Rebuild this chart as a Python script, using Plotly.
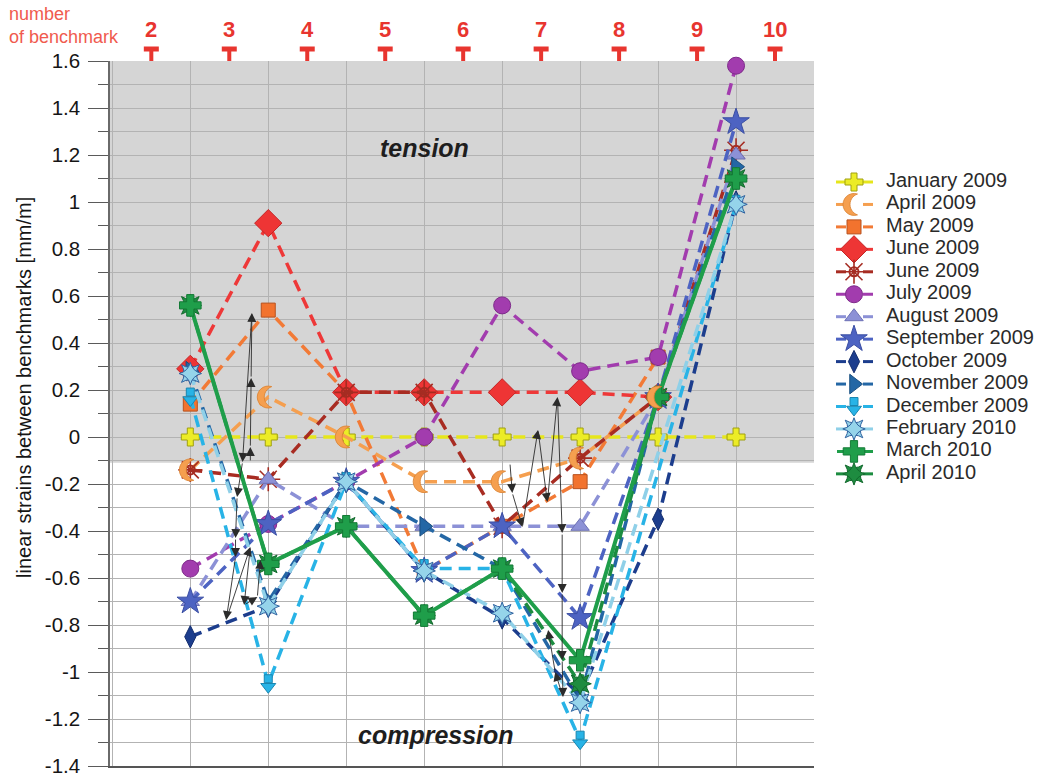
import math
import plotly.graph_objects as go

# ---------------------------------------------------------------- data ----
# x = index of the measured interval (0 -> benchmarks 2-3, ..., 7 -> benchmarks 9-10)
interval_idx = [0, 1, 2, 3, 4, 5, 6, 7]
benchmark_labels = ["2", "3", "4", "5", "6", "7", "8", "9", "10"]
benchmark_pos = [-0.5, 0.5, 1.5, 2.5, 3.5, 4.5, 5.5, 6.5, 7.5]

y_tickvals = [-1.4, -1.2, -1.0, -0.8, -0.6, -0.4, -0.2, 0.0,
              0.2, 0.4, 0.6, 0.8, 1.0, 1.2, 1.4, 1.6]
y_ticktext = ["-1.4", "-1.2", "-1", "-0.8", "-0.6", "-0.4", "-0.2", "0",
              "0.2", "0.4", "0.6", "0.8", "1", "1.2", "1.4", "1.6"]
tension_floor = -0.11   # lower edge of the shaded "tension" band

# linear strain [mm/m] per interval
january_2009   = [0.00, 0.00, 0.00, 0.00, 0.00, 0.00, 0.00, 0.00]
april_2009     = [-0.14, 0.17, 0.00, -0.19, -0.19, -0.09, 0.17, None]
may_2009       = [0.14, 0.54, 0.19, -0.57, -0.38, -0.19, 0.34, None]
june_2009      = [0.29, 0.91, 0.19, 0.19, 0.19, 0.19, 0.17, None]
june_2009_b    = [-0.14, -0.18, 0.19, 0.19, -0.38, -0.09, 0.17, 1.22]
july_2009      = [-0.56, -0.37, -0.19, 0.00, 0.56, 0.28, 0.34, 1.58]
august_2009    = [-0.70, -0.18, -0.38, -0.38, -0.38, -0.38, 0.17, 1.20]
september_2009 = [-0.70, -0.37, -0.19, -0.57, -0.38, -0.77, 0.17, 1.34]
october_2009   = [-0.85, -0.72, -0.19, -0.57, -0.77, -1.10, -0.35, 1.00]
november_2009  = [0.28, -0.70, -0.19, -0.38, -0.56, -1.12, 0.17, 1.15]
december_2009  = [0.17, -1.05, -0.19, -0.56, -0.56, -1.29, None, 0.99]
february_2010  = [0.27, -0.72, -0.19, -0.57, -0.75, -1.13, None, 0.99]
march_2010     = [0.56, -0.54, -0.38, -0.76, -0.56, -0.95, 0.17, 1.10]
april_2010     = [0.56, -0.54, -0.38, -0.76, -0.56, -1.05, 0.17, 1.10]

# movement paths (interval index, strain) drawn as thin arrows
path_up_34 = [(0.77, -0.106), (0.77, -0.043), (0.78, 0.251), (0.79, 0.528)]
path_down_34 = [(0.79, 0.528), (0.67, -0.106), (0.60, -0.255), (0.58, -0.430),
                (0.58, -0.511), (0.46, -0.779), (0.77, -0.468), (0.69, -0.715),
                (0.86, -0.681), (0.90, -0.523)]
path_78 = [(4.10, -0.111), (4.13, -0.238), (4.26, -0.383), (4.46, 0.030),
           (4.58, -0.277), (4.71, 0.170), (4.77, -0.409), (4.77, -0.664),
           (4.77, -0.949), (4.78, -1.106), (4.68, -1.000), (4.59, -0.821)]

# ------------------------------------------------------------- layout ----
W, H = 1043, 776
PL, PR, PT, PB = 110, 814, 61, 766          # plot box in pixels
X_RANGE = [-1.03, 8.0]
Y_RANGE = [-1.4, 1.6]
PX_PER_Y = (PB - PT) / (Y_RANGE[1] - Y_RANGE[0])

FONT = "Liberation Sans, Arial, sans-serif"
RED = "#e8352f"
DASH = "12px,7px"


def crescent_path(r_out=11.0, offset=7.0, n=14):
    """Closed SVG path (pixels, centred on 0,0) of a crescent opening to the right."""
    r_in = r_out
    hx = offset / 2.0
    hy = math.sqrt(r_out ** 2 - hx ** 2)
    a0 = math.atan2(hy, hx)
    pts = []
    for k in range(n + 1):                      # outer arc, through the left side
        a = a0 + (2 * math.pi - 2 * a0) * k / n
        pts.append((r_out * math.cos(a), r_out * math.sin(a)))
    b0 = math.atan2(-hy, hx - offset)
    b1 = math.atan2(hy, hx - offset)
    for k in range(1, n):                       # inner arc back to the top horn
        a = b0 - ((b0 - b1) % (2 * math.pi)) * k / n
        pts.append((offset + r_in * math.cos(a), r_in * math.sin(a)))
    return "M " + " L ".join(f"{x:.2f},{y:.2f}" for x, y in pts) + " Z"


CRESCENT = crescent_path()

# marker layers: (symbol, size, fill, outline, outline width, vertical shift px)
series = [
    dict(name="January 2009", y=january_2009, color="#e6e61c", dash=DASH,
         marks=[("cross", 15, "#ecec26", "#a0a010", 1, 0)]),
    dict(name="April 2009", y=april_2009, color="#f59f4f", dash=DASH,
         marks=[("crescent", 0, "#f59f4f", "#d9802f", 0.8, 0)]),
    dict(name="May 2009", y=may_2009, color="#f27a36", dash=DASH,
         marks=[("square", 14, "#f2732e", "#b8521e", 1, 0)]),
    dict(name="June 2009", y=june_2009, color="#ee3838", dash=DASH,
         marks=[("diamond", 21, "#ee3535", "#c42525", 1, 0)]),
    dict(name="June 2009", y=june_2009_b, color="#a82c22", dash=DASH,
         marks=[("circle-open", 9, "#a52c22", "#a52c22", 2, 0),
                ("asterisk-open", 20, "#a52c22", "#a52c22", 1.6, 0)]),
    dict(name="July 2009", y=july_2009, color="#a23cae", dash=DASH,
         marks=[("circle", 17, "#a23cae", "#7e2a8a", 1, 0)]),
    dict(name="August 2009", y=august_2009, color="#8c91d6", dash=DASH,
         marks=[("triangle-up", 16, "#8c91d6", "#6d71b5", 1, 0)]),
    dict(name="September 2009", y=september_2009, color="#4d63c2", dash=DASH,
         marks=[("star", 20, "#4d63c2", "#3a4ea3", 1, 0)]),
    dict(name="October 2009", y=october_2009, color="#1c3d8d", dash=DASH,
         marks=[("diamond-tall", 16, "#1c3d8d", "#142e6e", 1, 0)]),
    dict(name="November 2009", y=november_2009, color="#2467a5", dash=DASH,
         marks=[("triangle-right", 17, "#2467a5", "#1a4f80", 1, 0)]),
    dict(name="December 2009", y=december_2009, color="#28b3e6", dash=DASH,
         marks=[("triangle-down", 13, "#28b3e6", "#1a86b0", 1, -3),
                ("square", 8, "#28b3e6", "#1a86b0", 1, 5)]),
    dict(name="February 2010", y=february_2010, color="#8fd0e8", dash=DASH,
         marks=[("star-square", 16, "#95d4ea", "#2f62a0", 1, 0),
                ("star-diamond", 16, "#95d4ea", "#2f62a0", 1, 0)]),
    dict(name="March 2010", y=march_2010, color="#1f9e4a", dash="solid",
         marks=[("cross", 18, "#1f9e4a", "#147a36", 1, 0)]),
    dict(name="April 2010", y=april_2010, color="#1c8c40", dash=DASH,
         marks=[("star-square", 16, "#1e8c40", "#136a2e", 1, 0),
                ("star-diamond", 16, "#1e8c40", "#136a2e", 1, 0)]),
]
draw_order = list(range(12)) + [13, 12]

fig = go.Figure()
shapes = []


def add_marks(xs, ys, marks, xref, yref, shift_scale):
    for sym, size, fill, outline, lw, dy in marks:
        yy = [None if v is None else v + dy * shift_scale for v in ys]
        if sym == "crescent":
            for xv, yv in zip(xs, yy):
                if yv is None:
                    continue
                shapes.append(dict(type="path", path=CRESCENT, xref=xref, yref=yref,
                                   xsizemode="pixel", ysizemode="pixel",
                                   xanchor=xv, yanchor=yv, fillcolor=fill,
                                   line=dict(color=outline, width=lw), layer="above"))
        else:
            fig.add_trace(go.Scatter(
                x=xs, y=yy, mode="markers", xaxis=xref, yaxis=yref,
                marker=dict(symbol=sym, size=size, color=fill,
                            line=dict(color=outline, width=lw)),
                cliponaxis=False, showlegend=False, hoverinfo="skip"))


# series lines and markers
for i in draw_order:
    s = series[i]
    fig.add_trace(go.Scatter(
        x=interval_idx, y=s["y"], mode="lines", connectgaps=True,
        line=dict(color=s["color"], width=4 if s["dash"] == "solid" else 3.5,
                  dash=s["dash"]),
        showlegend=False, hoverinfo="skip"))
    add_marks(interval_idx, s["y"], s["marks"], "x", "y", 1 / PX_PER_Y)

# legend drawn in a pixel-based overlay subplot
LEG_Y0, LEG_DY = 182, 22.45
LEG_X_SOLID = [837, 873]
LEG_X_DASHED = [836, 846, None, 863, 873]
for k, s in enumerate(series):
    ry = LEG_Y0 + k * LEG_DY
    lx = LEG_X_SOLID if s["dash"] == "solid" else LEG_X_DASHED
    fig.add_trace(go.Scatter(x=lx, y=[ry if v is not None else None for v in lx],
                             mode="lines", xaxis="x2", yaxis="y2", connectgaps=False,
                             line=dict(color=s["color"], width=3),
                             showlegend=False, hoverinfo="skip"))
    add_marks([854], [ry], s["marks"], "x2", "y2", -1)
    fig.add_trace(go.Scatter(x=[886], y=[ry], mode="text", xaxis="x2", yaxis="y2",
                             text=[s["name"]], textposition="middle right",
                             textfont=dict(family=FONT, size=20, color="#2a2a2a"),
                             cliponaxis=False, showlegend=False, hoverinfo="skip"))

# benchmark "T" symbols above the plot
for pos in benchmark_pos:
    shapes.append(dict(type="line", xref="x", xsizemode="pixel", xanchor=pos, x0=-7.5, x1=7.5,
                       yref="paper", y0=1 - 49 / H, y1=1 - 49 / H,
                       line=dict(color=RED, width=5), layer="above"))
    shapes.append(dict(type="line", xref="x", xsizemode="pixel", xanchor=pos, x0=0, x1=0,
                       yref="paper", y0=1 - 49 / H, y1=1 - 61 / H,
                       line=dict(color=RED, width=4), layer="above"))

# shaded tension band
shapes.append(dict(type="rect", xref="x", yref="y", x0=X_RANGE[0], x1=X_RANGE[1],
                   y0=tension_floor, y1=Y_RANGE[1], fillcolor="#d5d5d5",
                   line=dict(width=0), layer="below"))

annotations = []
# movement arrows
for path in (path_up_34, path_down_34, path_78):
    for (x0, y0), (x1, y1) in zip(path[:-1], path[1:]):
        annotations.append(dict(x=x1, y=y1, ax=x0, ay=y0, xref="x", yref="y",
                                axref="x", ayref="y", text="", showarrow=True,
                                arrowhead=2, arrowsize=2, arrowwidth=0.9,
                                arrowcolor="#2b2b2b", standoff=0, startstandoff=0))
# benchmark numbers
for pos, lab in zip(benchmark_pos, benchmark_labels):
    annotations.append(dict(x=pos, y=1 - 30 / H, xref="x", yref="paper", text=f"<b>{lab}</b>",
                            showarrow=False, xanchor="center", yanchor="middle",
                            font=dict(family=FONT, size=22, color=RED)))
annotations += [
    dict(x=7 / W, y=1 - 26 / H, xref="paper", yref="paper", text="number<br>of benchmark",
         showarrow=False, align="left", xanchor="left", yanchor="middle",
         font=dict(family=FONT, size=18, color="#f05a4e")),
    dict(x=24 / W, y=1 - 388 / H, xref="paper", yref="paper",
         text="linear strains between benchmarks [mm/m]", textangle=-90, showarrow=False,
         xanchor="center", yanchor="middle", font=dict(family=FONT, size=20, color="#151515")),
    dict(x=3.0, y=1.23, xref="x", yref="y", text="<b><i>tension</i></b>", showarrow=False,
         xanchor="center", yanchor="middle", font=dict(family=FONT, size=25, color="#1e1e1e")),
    dict(x=3.15, y=-1.27, xref="x", yref="y", text="<b><i>compression</i></b>", showarrow=False,
         xanchor="center", yanchor="middle", font=dict(family=FONT, size=25, color="#1e1e1e")),
]

GRID = "#b3b3b3"
fig.update_layout(
    template="none",
    width=W, height=H, autosize=False,
    margin=dict(l=0, r=0, t=0, b=0, pad=0),
    paper_bgcolor="white", plot_bgcolor="rgba(0,0,0,0)",
    showlegend=False, hovermode=False,
    xaxis=dict(domain=[PL / W, PR / W], range=X_RANGE, tickmode="linear", tick0=0, dtick=1,
               showticklabels=False, ticks="", showgrid=True, gridcolor=GRID, gridwidth=1,
               zeroline=False, showline=True, linecolor="#555555", linewidth=1.5,
               automargin=False, fixedrange=True),
    yaxis=dict(domain=[1 - PB / H, 1 - PT / H], range=Y_RANGE, tickmode="array",
               tickvals=y_tickvals, ticktext=y_ticktext, ticks="outside", ticklen=20,
               tickwidth=1, tickcolor="#5a5a5a", ticklabelstandoff=4,
               ticklabeloverflow="allow",
               tickfont=dict(family=FONT, size=20.5, color="#151515"),
               showgrid=True, gridcolor=GRID, gridwidth=1,
               minor=dict(tick0=0, dtick=0.1, ticks="outside", ticklen=10,
                          tickcolor="#5a5a5a", showgrid=True, gridcolor=GRID),
               zeroline=False, showline=True, linecolor="#6a6a6a", linewidth=1.5,
               automargin=False, fixedrange=True),
    xaxis2=dict(domain=[0, 1], range=[0, W], visible=False, anchor="y2",
                automargin=False, fixedrange=True),
    yaxis2=dict(domain=[0, 1], range=[H, 0], visible=False, anchor="x2",
                automargin=False, fixedrange=True),
    shapes=shapes,
    annotations=annotations,
)

fig.write_html("out.html")
